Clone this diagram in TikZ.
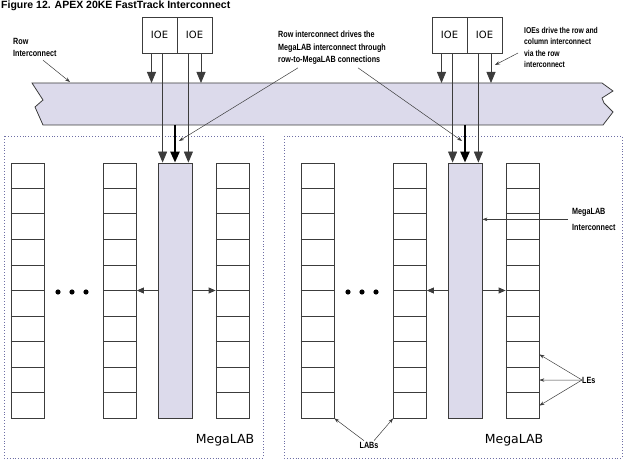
\documentclass[tikz,border=0pt]{standalone}
\usepackage{fontspec}
\setmainfont{DejaVu Sans}
\newfontfamily\labfont[FakeStretch=0.8]{Liberation Sans}
\newfontfamily\titlefont{Liberation Sans}
\usetikzlibrary{arrows.meta,calc}
\definecolor{shade}{RGB}{220,218,235}
\definecolor{linec}{RGB}{60,60,60}
\definecolor{dotc}{RGB}{110,110,165}
\tikzset{
  ioe/.style={draw=linec, line width=0.8pt, minimum width=35pt, minimum height=36pt, inner sep=0pt, font=\fontsize{10}{12}\selectfont},
  labcol/.style={draw=linec, line width=0.8pt, minimum width=33pt, minimum height=255pt, inner sep=0pt},
  mcol/.style={labcol, fill=shade, minimum width=34pt},
  lbl/.style={font=\labfont\bfseries\fontsize{9}{12.5}\selectfont, align=left, inner sep=0pt, anchor=north west},
  bigarrow/.style={-{Triangle[width=9pt,length=11pt]}, line width=0.8pt, draw=linec},
  fatarrow/.style={-{Triangle[width=9pt,length=11pt]}, line width=2.4pt, draw=black},
  harrow/.style={-{Triangle[width=6pt,length=7pt]}, line width=0.8pt, draw=linec},
  larrow/.style={-{Stealth[width=3.5pt,length=5pt]}, line width=0.5pt, draw=linec},
  megabox/.style={draw=dotc, dotted, line width=0.9pt},
  megatext/.style={font=\fontsize{12.5}{14}\selectfont, inner sep=0pt}
}
\begin{document}
\begin{tikzpicture}[x=1pt,y=-1pt]
\useasboundingbox (0,0) rectangle (627,468);

% title
\node[anchor=base west, inner sep=0pt, font=\titlefont\bfseries\fontsize{10.5}{12}\selectfont] (title) at (1,9) {Figure 12. APEX 20KE FastTrack Interconnect};

% MegaLAB boxes
\draw[megabox] (4,136) rectangle (263,458);
\draw[megabox] (284,136) rectangle (622,458);

% row bus
\draw[linec, line width=0.8pt, fill=shade] (32,83) -- (602,83) -- (613,91) -- (602,98) -- (604,103) -- (613,112) -- (603,125) -- (43,125) -- (35,107) -- (43,100) -- cycle;
\coordinate (busTop) at (0,83);
\coordinate (busBot) at (0,125);

% IOEs
\node[ioe] (ioeL1) at (159.5,35) {IOE};
\node[ioe] (ioeL2) at (194.5,35) {IOE};
\node[ioe] (ioeR1) at (449.5,35) {IOE};
\node[ioe] (ioeR2) at (484.5,35) {IOE};

% columns
\node[labcol] (c1) at (27.5,290.5) {};
\node[labcol] (c2) at (120,290.5) {};
\node[mcol] (colL) at (175,290.5) {};
\node[labcol] (c4) at (232.5,290.5) {};
\node[labcol] (d1) at (317.5,290.5) {};
\node[labcol] (d2) at (410,290.5) {};
\node[mcol] (colR) at (465,290.5) {};
\node[labcol] (d4) at (522.5,290.5) {};
\foreach \c in {c1,c2,c4,d1,d2,d4}{
  \foreach \k in {1,...,9}{
    \draw[linec, line width=0.8pt] ($(\c.north west)!\k/10!(\c.south west)$) -- ($(\c.north east)!\k/10!(\c.south east)$);
  }
}

% IOE arrows into the row bus
\draw[bigarrow] ($(ioeL1.south)+(-8,0)$) -- ($(ioeL1.south |- busTop)+(-8,0)$);
\draw[bigarrow] ($(ioeL2.south)+(6.5,0)$) -- ($(ioeL2.south |- busTop)+(6.5,0)$);
\draw[bigarrow] ($(ioeR1.south)+(-8,0)$) -- ($(ioeR1.south |- busTop)+(-8,0)$);
\draw[bigarrow] ($(ioeR2.south)+(6.5,0)$) -- ($(ioeR2.south |- busTop)+(6.5,0)$);

% IOE lines through the bus to the MegaLAB interconnect
\coordinate (aL1) at ($(colL.north west)+(5,0)$);
\coordinate (aL2) at ($(colL.north east)+(-4,0)$);
\coordinate (aR1) at ($(colR.north west)+(5,0)$);
\coordinate (aR2) at ($(colR.north east)+(-4,0)$);
\draw[bigarrow] (aL1 |- ioeL1.south) -- (aL1);
\draw[bigarrow] (aL2 |- ioeL2.south) -- (aL2);
\draw[bigarrow] (aR1 |- ioeR1.south) -- (aR1);
\draw[bigarrow] (aR2 |- ioeR2.south) -- (aR2);
\draw[fatarrow] (colL.north |- busBot) -- (colL.north);
\draw[fatarrow] (colR.north |- busBot) -- (colR.north);

% MegaLAB interconnect to LABs
\draw[harrow] (colL.west) -- (c2.east);
\draw[harrow] (colL.east) -- (c4.west);
\draw[harrow] (colR.west) -- (d2.east);
\draw[harrow] (colR.east) -- (d4.west);

% dots
\foreach \x in {58,72,86,348,362,376}{\fill[black] (\x,292) circle (2.6);}

% MegaLAB labels
\node[megatext] (mlL) at (225,440) {MegaLAB};
\node[megatext] (mlR) at (514,440) {MegaLAB};

% callouts
\node[lbl] (tl) at (13,38) {Row\\Interconnect};
\coordinate (tlTip) at (70,82);
\draw[larrow] ($(tl.south west)+(30,3)$) -- (tlTip);

\node[lbl] (mid) at (278,31) {Row interconnect drives the\\MegaLAB interconnect through\\row-to-MegaLAB connections};
\coordinate (midTipL) at (179,141);
\coordinate (midTipR) at (462,141);
\draw[larrow] ($(mid.south west)+(20,3)$) -- (midTipL);
\draw[larrow] ($(mid.south west)+(80,3)$) -- (midTipR);

\node[lbl, font=\labfont\bfseries\fontsize{8.5}{11.5}\selectfont] (tr) at (524,27) {IOEs drive the row and\\column interconnect\\via the row\\interconnect};
\coordinate (trTip) at (495,65);
\draw[larrow] ($(tr.north west)+(-6,26)$) -- (trTip);

\node[lbl, font=\labfont\bfseries\fontsize{9}{16}\selectfont] (rm) at (572,208) {MegaLAB\\Interconnect};
\draw[larrow] ($(rm.west)+(-4,0)$) -- (colR.east |- rm.west);

\node[lbl, anchor=west] (les) at (582,380) {LEs};
\draw[larrow] (les.west) -- ($(d4.north east)!0.75!(d4.south east)$);
\draw[larrow] (les.west) -- ($(d4.north east)!0.85!(d4.south east)$);
\draw[larrow] (les.west) -- ($(d4.north east)!0.95!(d4.south east)$);

\node[lbl, anchor=center] (labs) at (369,445) {LABs};
\draw[larrow] ($(labs.north)+(-5,-1)$) -- (d1.south east);
\draw[larrow] ($(labs.north)+(5,-1)$) -- (d2.south west);
\end{tikzpicture}
\end{document}
